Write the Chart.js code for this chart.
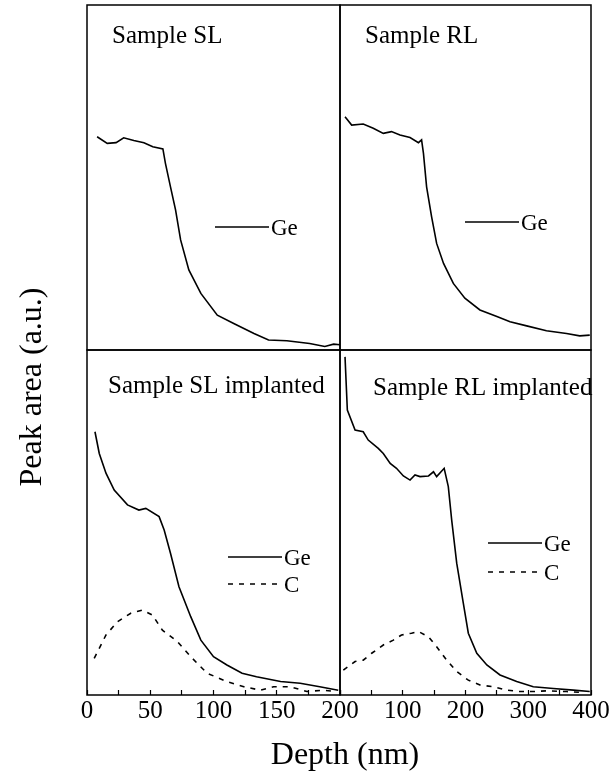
<!DOCTYPE html>
<html>
<head>
<meta charset="utf-8">
<script src="https://cdn.jsdelivr.net/npm/chart.js@4.4.0/dist/chart.umd.min.js"></script>
<style>
  body { margin: 0; background: #fff; }
  #wrap { position: relative; width: 612px; height: 773px; overflow: hidden;
          font-family: "Liberation Serif", "Times New Roman", serif; color: #000; }
  #wrap canvas { position: absolute; left: 0; top: 0; }
  .ax { position: absolute; font-size: 32px; line-height: 40px; height: 40px; text-align: center; white-space: nowrap; }
  #xTitle { left: 245px; top: 733px; width: 200px; }
  #yTitle { left: -100px; top: 367px; width: 260px; transform: rotate(-90deg); }
</style>
</head>
<body>
<div id="wrap">
  <canvas id="pSL" width="612" height="773"></canvas>
  <canvas id="pRL" width="612" height="773"></canvas>
  <canvas id="pSLi" width="612" height="773"></canvas>
  <canvas id="pRLi" width="612" height="773"></canvas>
  <div class="ax" id="xTitle">Depth (nm)</div>
  <div class="ax" id="yTitle">Peak area (a.u.)</div>
</div>
<script>
// depth in nm, peak area in arbitrary units (0-100 per panel)
const slDepth = [8, 16, 23, 29, 37, 45, 52, 60, 62, 66, 70, 74, 80.5, 90, 103, 116, 132, 143.5, 158, 176, 188, 195, 200];
const slGe = [61.8, 59.9, 60.1, 61.5, 60.7, 60.1, 58.9, 58.3, 54.1, 47.3, 40.6, 31.9, 23.2, 16.4, 10.1, 7.7, 4.8, 2.9, 2.7, 1.9, 1.0, 1.7, 1.5];

const rlDepth = [8, 18.6, 37, 53, 69, 82, 95.6, 111.6, 125, 130, 133, 138, 146, 154, 165, 180.6, 199, 223, 250, 271, 297.5, 329, 361, 382, 398];
const rlGe = [67.6, 65.2, 65.5, 64.3, 62.8, 63.3, 62.3, 61.6, 60.1, 60.9, 57, 47.3, 38.6, 30.9, 25.1, 19.3, 15, 11.6, 9.7, 8.2, 7, 5.6, 4.8, 4.1, 4.3];

const slImpDepth = [6.3, 9.7, 15, 21.5, 32, 41, 46.5, 57, 61, 66, 72.7, 82, 90, 100, 110.6, 122.6, 134, 153, 168.5, 184, 198.6];
const slImpGe = [76.3, 70, 64.3, 59.4, 55.1, 53.6, 54.1, 51.7, 47.8, 41.1, 31.4, 22.7, 15.9, 11.1, 8.7, 6.3, 5.3, 3.9, 3.4, 2.4, 1.4];
const slImpCDepth = [5.7, 15, 24, 34.6, 43.8, 51.7, 59.6, 71.4, 82, 95, 110.6, 124, 137, 147.5, 160.6, 173.8, 186.9, 197];
const slImpC = [10.6, 17.4, 21.2, 23.7, 24.6, 23.2, 18.8, 15.5, 11.1, 6.3, 3.9, 2.4, 1.4, 2.4, 2.4, 1, 1.4, 1];

const rlImpDepth = [8, 11.7, 24, 37, 45, 61, 69, 80, 90, 101, 111.6, 119.5, 127.5, 141, 149, 154, 166, 172.6, 178, 186, 196.5, 204.5, 218, 234, 255, 281.6, 308, 340, 372, 398];
const rlImpGe = [98, 82.6, 76.8, 76.3, 73.9, 71.5, 70, 67.1, 65.7, 63.5, 62.3, 63.8, 63.3, 63.5, 64.7, 63.3, 65.7, 60.4, 50.7, 38.2, 26.6, 17.9, 12.1, 8.7, 5.8, 3.9, 2.4, 1.9, 1.4, 1];
const rlImpCDepth = [5.3, 24, 37, 50.5, 69, 85, 98, 114, 125, 141, 154, 170, 186, 204.5, 223, 244, 265.6, 287, 308, 329, 361, 388];
const rlImpC = [7.2, 9.7, 10.1, 12.1, 14.5, 15.9, 17.4, 17.9, 18.4, 16.9, 14, 10.1, 6.8, 4.3, 2.9, 2.4, 1.4, 1, 1, 1.2, 1, 0.7];

const leftTicks = [0, 50, 100, 150, 200];
const rightTicks = [100, 200, 300, 400];

const SERIF = '"Liberation Serif", "Times New Roman", serif';

// frame, panel title and the little in-panel legend
const panelDeco = {
  id: 'panelDeco',
  afterDatasetsDraw(chart, args, o) {
    const {ctx, chartArea: a} = chart;
    ctx.save();
    ctx.strokeStyle = '#000';
    ctx.fillStyle = '#000';
    ctx.lineWidth = 1.5;
    ctx.strokeRect(a.left, a.top, a.right - a.left, a.bottom - a.top);
    ctx.font = '25px ' + SERIF;
    ctx.textBaseline = 'alphabetic';
    ctx.fillText(o.title, a.left + o.titleX, a.top + o.titleY);
    ctx.font = '23px ' + SERIF;
    chart.data.datasets.forEach((d, i) => {
      const x = a.left + o.legendX;
      const y = a.top + o.legendY + i * o.legendStep;
      ctx.lineWidth = 1.6;
      ctx.setLineDash(d.borderDash || []);
      ctx.beginPath();
      ctx.moveTo(x, y);
      ctx.lineTo(x + 54, y);
      ctx.stroke();
      ctx.setLineDash([]);
      ctx.fillText(d.label, x + 56, y + 8);
    });
    ctx.restore();
  }
};

function makePanel(id, cfg) {
  const datasets = cfg.series.map(s => ({
    label: s.label,
    data: s.x.map((x, i) => ({x: x, y: s.y[i]})),
    borderColor: '#000',
    borderWidth: 1.6,
    borderDash: s.dash || [],
    pointRadius: 0,
    tension: 0,
    fill: false
  }));
  return new Chart(document.getElementById(id), {
    type: 'line',
    data: {datasets},
    plugins: [panelDeco],
    options: {
      responsive: false,
      animation: false,
      events: [],
      layout: {padding: cfg.pad},
      plugins: {
        legend: {display: false},
        tooltip: {enabled: false},
        panelDeco: cfg.deco
      },
      scales: {
        x: {
          type: 'linear',
          min: 0,
          max: cfg.xMax,
          display: cfg.axis,
          afterFit: s => {
            if (!cfg.axis) return;
            s.height = 40;
            s.paddingLeft = 0;
            s.paddingRight = 0;
          },
          border: {display: false},
          grid: {drawOnChartArea: false, drawTicks: true, tickLength: -5, tickColor: '#000', tickWidth: 1.2},
          ticks: {
            stepSize: cfg.step,
            autoSkip: false,
            maxRotation: 0,
            padding: 6,
            color: '#000',
            font: {family: SERIF, size: 25},
            callback: v => cfg.labels.includes(v) ? String(v) : ''
          }
        },
        y: {type: 'linear', min: 0, max: 100, display: false}
      }
    }
  });
}

makePanel('pSL', {
  xMax: 200, step: 25, labels: leftTicks, axis: false,
  pad: {left: 87, right: 272, top: 5, bottom: 423},
  series: [{label: 'Ge', x: slDepth, y: slGe}],
  deco: {title: 'Sample SL', titleX: 25, titleY: 38, legendX: 128, legendY: 222, legendStep: 28}
});

makePanel('pRL', {
  xMax: 400, step: 50, labels: rightTicks, axis: false,
  pad: {left: 340, right: 21, top: 5, bottom: 423},
  series: [{label: 'Ge', x: rlDepth, y: rlGe}],
  deco: {title: 'Sample RL', titleX: 25, titleY: 38, legendX: 125, legendY: 217, legendStep: 28}
});

makePanel('pSLi', {
  xMax: 200, step: 25, labels: leftTicks, axis: true,
  pad: {left: 87, right: 272, top: 350, bottom: 38},
  series: [
    {label: 'Ge', x: slImpDepth, y: slImpGe},
    {label: 'C', x: slImpCDepth, y: slImpC, dash: [5, 6]}
  ],
  deco: {title: 'Sample SL implanted', titleX: 21, titleY: 43, legendX: 141, legendY: 207, legendStep: 27}
});

makePanel('pRLi', {
  xMax: 400, step: 50, labels: rightTicks, axis: true,
  pad: {left: 340, right: 21, top: 350, bottom: 38},
  series: [
    {label: 'Ge', x: rlImpDepth, y: rlImpGe},
    {label: 'C', x: rlImpCDepth, y: rlImpC, dash: [5, 6]}
  ],
  deco: {title: 'Sample RL implanted', titleX: 33, titleY: 45, legendX: 148, legendY: 193, legendStep: 29}
});
</script>
</body>
</html>
